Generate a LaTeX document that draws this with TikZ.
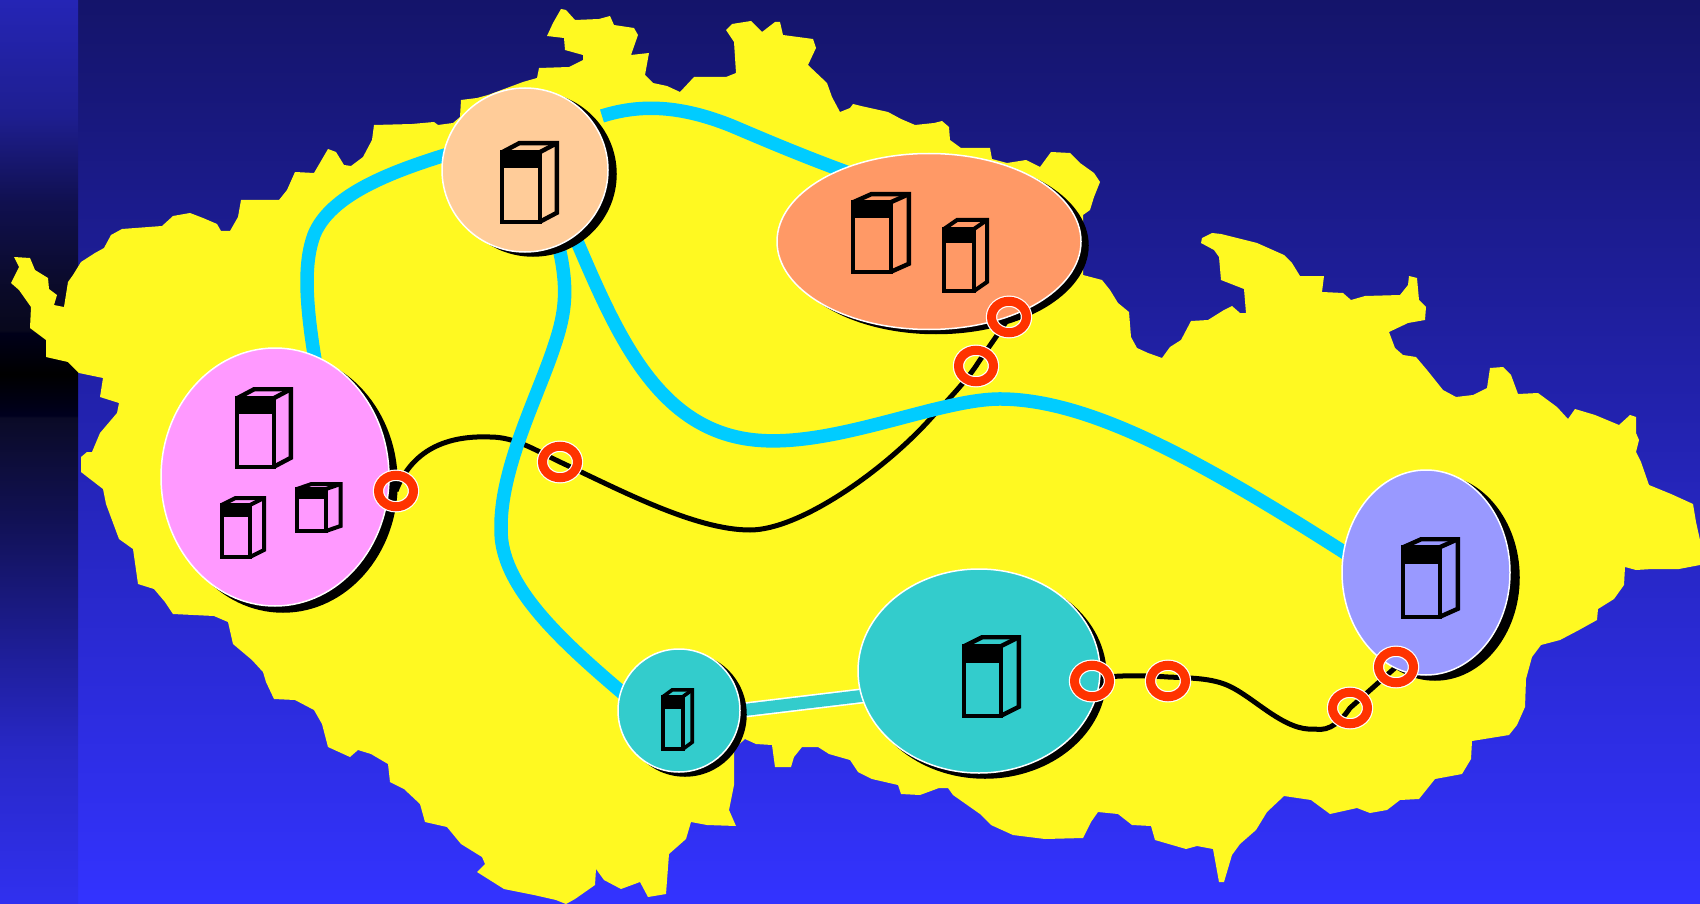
\documentclass[tikz,border=0pt]{standalone}
\usepackage{tikz}
\usetikzlibrary{shapes.geometric,shadows,backgrounds}
\definecolor{skytop}{HTML}{14146A}
\definecolor{skylow}{HTML}{3333FF}
\definecolor{landyellow}{HTML}{FFF921}
\definecolor{fiberblue}{HTML}{00CCFF}
\definecolor{ringred}{HTML}{FF3300}
\definecolor{peachc}{HTML}{FFCC99}
\definecolor{orangec}{HTML}{FF9966}
\definecolor{pinkc}{HTML}{FF99FF}
\definecolor{tealc}{HTML}{33CCCC}
\definecolor{lilacc}{HTML}{9999FF}
\pgfdeclareverticalshading{stripfill}{100bp}{
    rgb(0bp)=(.19,.19,.94); rgb(25bp)=(.19,.19,.94);
    rgb(33.5bp)=(.157,.157,.78); rgb(39.9bp)=(.11,.11,.56);
    rgb(46.3bp)=(.067,.067,.33); rgb(51.9bp)=(.04,.04,.15);
    rgb(52bp)=(0,0,.12); rgb(54.3bp)=(0,0,0); rgb(56.6bp)=(0,0,.10);
    rgb(56.7bp)=(.03,.03,.11); rgb(59.1bp)=(.04,.04,.16);
    rgb(63.8bp)=(.063,.063,.31); rgb(68.6bp)=(.118,.118,.565);
    rgb(75bp)=(.145,.145,.71); rgb(100bp)=(.145,.145,.71)}
\tikzstyle{site} = [ellipse,draw=white,line width=1.5pt,inner sep=0pt,outer sep=0pt]
\tikzstyle{ringm} = [ellipse,draw=white,line width=1.2pt,double=ringred,
    double distance=9pt,inner sep=0pt,outer sep=0pt,minimum width=35pt,minimum height=31.5pt]
\tikzstyle{fiber} = [draw=fiberblue,line width=13.5pt,shorten <=-6pt,shorten >=-6pt]
\tikzstyle{wire} = [draw=black,line width=5pt]
\tikzstyle{band} = [draw=white,line width=1.6pt,double=tealc,double distance=12pt,
    shorten <=-5pt,shorten >=-5pt]
\begin{document}
\begin{tikzpicture}[x=1pt,y=-1pt]
\useasboundingbox (0,0) rectangle (1700,904);
    %sites
    \foreach \name/\x/\y/\a/\b/\col/\sx/\sy in {
        peach/525/170/83/82/peachc/8/4, orange/929/241.5/152/88/orangec/7/4,
        pink/275/477/114/129/pinkc/8/6, tealsmall/679/710.5/61/61.5/tealc/6/4,
        tealbig/979/671/121/102/tealc/6/5, lilac/1426/572.5/84/102.5/lilacc/9/5}
    {\node[site,fill=\col,minimum width={2*\a pt},minimum height={2*\b pt},
        general shadow={fill=black,draw=black,shadow xshift=\sx pt,shadow yshift=-\sy pt}]
        (\name) at (\x,\y) {};}
    %servers: left, top, front right, right, front top, bottom
    \foreach \l/\t/\f/\r/\u/\b/\w in {
        500/141/542/559/150/224/4.4, 851/192/893/911/200/274/4.4, 942/218/976/989/227/293/4,
        235/387/276/293/396/469/4.4, 219.5/496/252/266/503/559/4, 295/482/328/342.5/487/533/4,
        661/688/684.5/694/695/751/3.6, 962/635/1003/1021/644/718/4.4, 1401/537/1442/1460/545/619/4.4}
    {\fill (\l,\u) rectangle (\f,{\u+0.25*(\b-\u)});
    \draw[line width=\w pt] (\l+\w/2,\u+\w/2) rectangle (\f-\w/2,\b-\w/2);
    \draw[line width=\w pt] (\l+\w/2,\u+\w/2) -- (\l+\w/2+\r-\f,\t+\w/2) -- (\r-\w/2,\t+\w/2)
        -- (\r-\w/2,\b-\w/2-\u+\t) -- (\f-\w/2,\b-\w/2);
    \draw[line width=\w pt] (\r-\w/2,\t+\w/2) -- (\f-\w/2,\u+\w/2);}
    %rings
    \foreach \name/\x/\y in {ra/396/491, rb/560/462, rc/976/366, rd/1009/317,
        re/1092/681, rf/1168/681, rg/1350/708, rh/1396/667}
    {\node[ringm] (\name) at (\x,\y) {};}
    \coordinate (wa) at (490,437);
    \coordinate (wb) at (750,530);
    \coordinate (wc) at (932,417);
    \coordinate (wd) at (1168,677);
    \coordinate (we) at (1315,729);
    \coordinate (fb) at (602,116);
\begin{scope}[on background layer]
    \shade[top color=skytop,bottom color=skylow] (78,0) rectangle (1700,904);
    \shade[shading=stripfill] (0,0) rectangle (78,904);
    %the country
    \fill[landyellow] (14,257)--(30,258)--(35,270)--(48,278)--(49,289)--(57,295)--(54,305)--(64,307)
    --(68,282)--(73,275)--(81,262)--(95,253)--(104,248)--(111,235)--(122,229)--(162,226)--(173,216)
    --(190,213)--(203,218)--(217,224)--(221,231)--(230,231)--(238,217)--(241,200)--(279,200)--(287,190)
    --(295,172)--(314,173)--(328,149)--(336,152)--(344,165)--(351,166)--(363,157)--(372,140)--(374,125)
    --(412,124)--(434,122)--(438,125)--(453,123)--(460,117)--(461,100)--(477,98)--(488,95)--(523,82)
    --(537,78)--(539,68)--(569,67)--(583,60)--(583,55)--(565,50)--(564,38)--(547,36)--(553,23)--(561,9)
    --(566,10)--(575,20)--(599,19)--(610,16)--(614,25)--(634,28)--(638,35)--(631,55)--(649,53)--(645,75)
    --(653,83)--(667,86)--(680,92)--(694,77)--(726,77)--(736,73)--(734,42)--(726,30)--(732,24)--(751,21)
    --(762,32)--(775,22)--(780,22)--(783,35)--(813,39)--(816,48)--(808,65)--(827,83)--(832,97)--(840,112)
    --(850,108)--(853,104)--(861,106)--(888,112)--(901,119)--(915,125)--(934,123)--(942,121)--(949,127)
    --(950,140)--(961,148)--(990,148)--(992,159)--(1007,163)--(1026,160)--(1040,167)--(1051,152)--(1070,153)
    --(1080,163)--(1094,173)--(1100,182)--(1094,197)--(1090,210)--(1083,215)--(1083,275)--(1102,280)
    --(1110,290)--(1118,303)--(1129,312)--(1131,337)--(1137,348)--(1148,353)--(1162,358)--(1170,347)
    --(1181,340)--(1191,321)--(1208,320)--(1224,310)--(1232,306)--(1240,313)--(1246,313)--(1244,289)
    --(1221,280)--(1219,257)--(1214,250)--(1201,243)--(1202,238)--(1212,233)--(1221,234)--(1257,243)
    --(1284,255)--(1292,263)--(1300,276)--(1324,276)--(1322,292)--(1343,293)--(1351,300)--(1365,296)
    --(1400,295)--(1408,285)--(1409,276)--(1417,278)--(1419,300)--(1426,307)--(1425,320)--(1408,323)
    --(1389,332)--(1395,348)--(1403,355)--(1416,357)--(1427,370)--(1443,390)--(1456,397)--(1473,395)
    --(1487,388)--(1490,368)--(1503,367)--(1511,375)--(1518,394)--(1538,393)--(1557,407)--(1568,419)
    --(1575,409)--(1595,415)--(1619,425)--(1630,415)--(1636,417)--(1636,433)--(1639,440)--(1636,452)
    --(1641,462)--(1649,485)--(1671,494)--(1693,504)--(1696,522)--(1700,540)--(1700,565)--(1679,569)
    --(1652,569)--(1636,570)--(1625,567)--(1624,585)--(1614,599)--(1598,609)--(1597,620)--(1579,630)
    --(1560,640)--(1541,645)--(1532,657)--(1526,679)--(1525,707)--(1517,725)--(1509,735)--(1472,741)
    --(1471,759)--(1462,774)--(1435,779)--(1419,799)--(1400,800)--(1387,810)--(1370,813)--(1357,808)
    --(1330,814)--(1311,800)--(1284,796)--(1267,812)--(1256,830)--(1240,844)--(1232,855)--(1224,882)
    --(1219,882)--(1213,849)--(1197,846)--(1186,849)--(1155,840)--(1151,826)--(1132,825)--(1118,814)
    --(1098,812)--(1091,822)--(1083,838)--(1045,839)--(1013,835)--(991,825)--(980,814)--(953,795)
    --(948,788)--(939,788)--(920,795)--(901,794)--(898,785)--(872,779)--(858,772)--(850,760)--(829,754)
    --(818,747)--(802,747)--(794,757)--(791,767)--(775,767)--(772,745)--(756,744)--(745,739)--(734,749)
    --(734,785)--(729,810)--(736,826)--(707,825)--(691,822)--(686,839)--(669,854)--(666,894)--(648,897)
    --(640,882)--(621,889)--(604,880)--(596,869)--(595,885)--(575,899)--(566,904)--(556,900)--(534,895)
    --(504,889)--(477,872)--(485,864)--(482,857)--(461,844)--(447,827)--(425,822)--(420,804)--(404,789)
    --(390,782)--(388,764)--(371,754)--(358,750)--(350,757)--(328,747)--(322,724)--(314,710)--(295,700)
    --(274,699)--(266,682)--(263,672)--(252,660)--(233,644)--(228,622)--(214,616)--(173,614)--(165,602)
    --(154,589)--(138,584)--(133,549)--(119,539)--(106,504)--(103,489)--(81,472)--(81,457)--(87,452)
    --(92,452)--(100,433)--(117,413)--(119,403)--(100,397)--(103,378)--(79,373)--(68,362)--(46,357)
    --(46,340)--(30,328)--(31,307)--(19,290)--(11,283)--(19,267)--cycle;
    %links
    \draw[wire] (ra.center) .. controls (410,455) and (440,435) .. (wa)
        .. controls (515,437) and (535,450) .. (rb.center)
        .. controls (620,490) and (695,530) .. (wb)
        .. controls (800,530) and (885,470) .. (wc)
        .. controls (950,398) and (965,382) .. (rc.center)
        .. controls (985,352) and (1000,332) .. (rd.center);
    \draw[wire] (re.center) .. controls (1100,675) and (1140,675) .. (wd)
        .. controls (1190,678) and (1212,678) .. (1229,686)
        .. controls (1255,698) and (1285,732) .. (we)
        .. controls (1330,732) and (1342,720) .. (rg.center) -- (rh.center);
    \draw[fiber] (peach.170) .. controls (390,172) and (330,195) .. (314,235)
        .. controls (304,262) and (305,300) .. (pink.72);
    \draw[fiber,shorten <=0pt] (fb) .. controls (640,104) and (680,105) .. (732,126)
        .. controls (765,140) and (800,155) .. (orange.141);
    \draw[fiber] (peach.-66) .. controls (570,290) and (565,315) .. (553,350)
        .. controls (536,400) and (500,470) .. (501,529)
        .. controls (500,585) and (560,640) .. (tealsmall.162);
    \draw[fiber] (peach.-53) .. controls (615,330) and (655,430) .. (755,440)
        .. controls (835,448) and (940,398) .. (1002,399)
        .. controls (1090,400) and (1200,460) .. (lilac.166);
    \draw[band] (tealsmall.east) -- (tealbig.192);
\end{scope}
\end{tikzpicture}
\end{document}
